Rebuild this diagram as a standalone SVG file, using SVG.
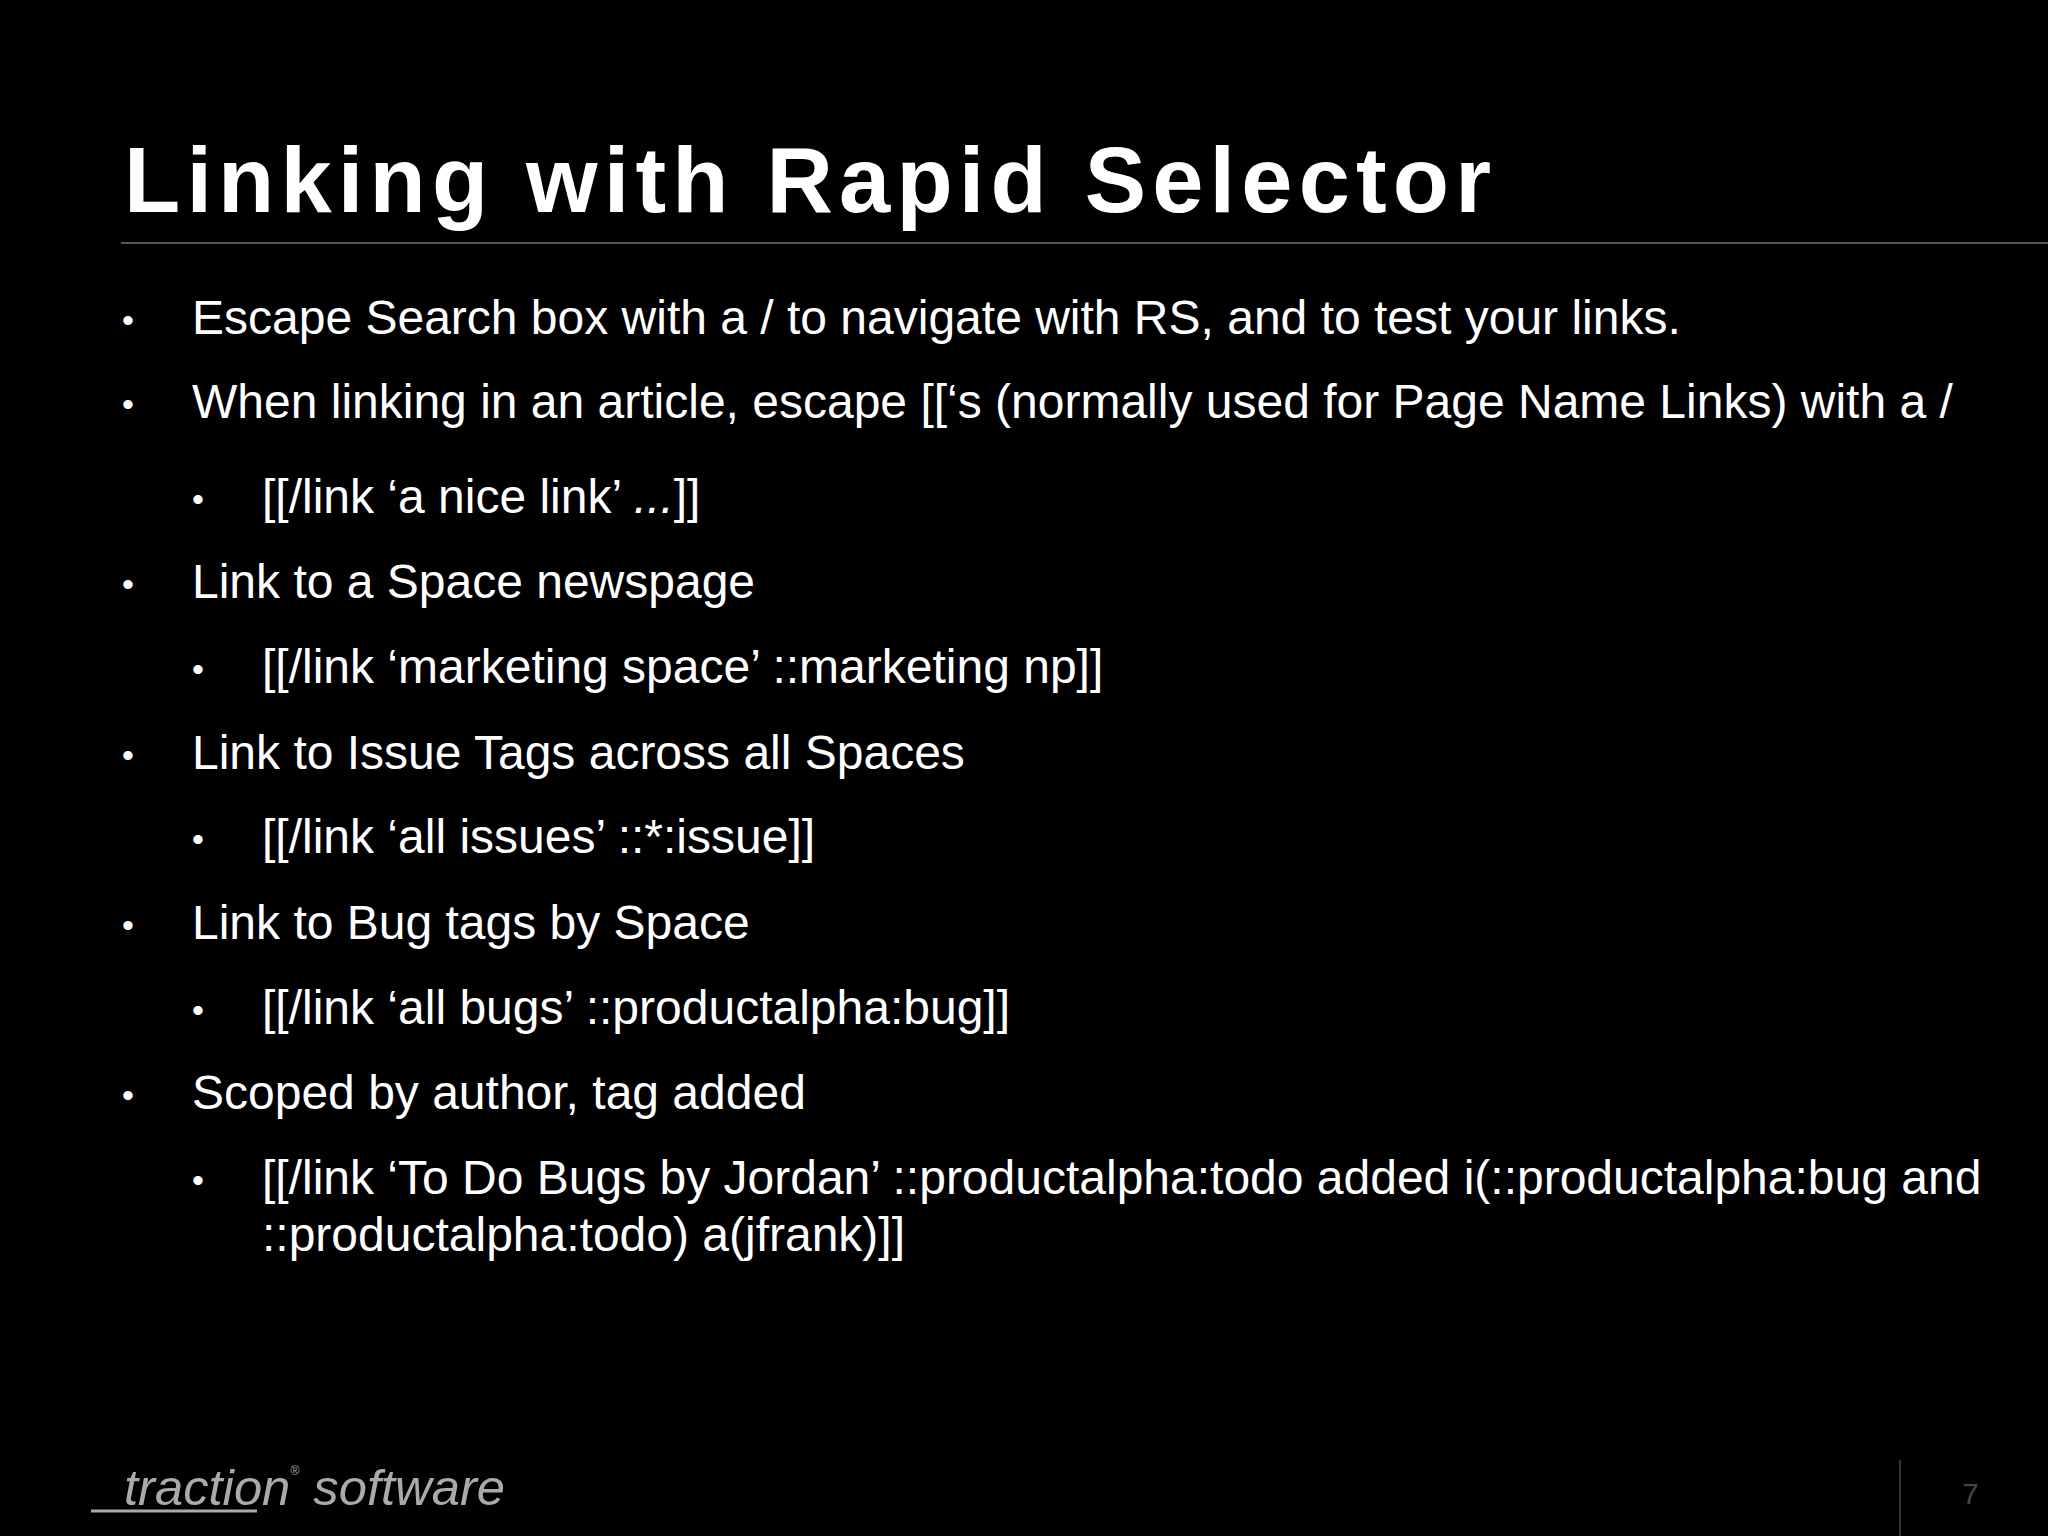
<svg xmlns="http://www.w3.org/2000/svg" width="2048" height="1536" viewBox="0 0 2048 1536">
<style>
.t{font-family:"Liberation Sans",Arial,sans-serif;fill:#fff;font-size:48px}
.b{font-family:"Liberation Sans",Arial,sans-serif;fill:#fff;font-size:34px}
</style>
<rect width="2048" height="1536" fill="#000"/>
<text x="124" y="212" font-family="Liberation Sans,Arial,sans-serif" font-weight="bold" font-size="92" fill="#fff" textLength="1367" lengthAdjust="spacing">Linking with Rapid Selector</text>
<line x1="121" y1="243" x2="2048" y2="243" stroke="#555" stroke-width="2"/>
<g id="bullets">
<text class="b" x="122" y="332">•</text><text class="t" x="192" y="334">Escape Search box with a / to navigate with RS, and to test your links.</text>
<text class="b" x="122" y="416">•</text><text class="t" x="192" y="418">When linking in an article, escape [[‘s (normally used for Page Name Links) with a /</text>
<text class="b" x="192" y="511">•</text><text class="t" x="262" y="513">[[/link ‘a nice link’ <tspan font-style="italic">...</tspan>]]</text>
<text class="b" x="122" y="596">•</text><text class="t" x="192" y="598">Link to a Space newspage</text>
<text class="b" x="192" y="681">•</text><text class="t" x="262" y="683">[[/link ‘marketing space’ ::marketing np]]</text>
<text class="b" x="122" y="767">•</text><text class="t" x="192" y="769">Link to Issue Tags across all Spaces</text>
<text class="b" x="192" y="851">•</text><text class="t" x="262" y="853">[[/link ‘all issues’ ::*:issue]]</text>
<text class="b" x="122" y="937">•</text><text class="t" x="192" y="939">Link to Bug tags by Space</text>
<text class="b" x="192" y="1022">•</text><text class="t" x="262" y="1024">[[/link ‘all bugs’ ::productalpha:bug]]</text>
<text class="b" x="122" y="1107">•</text><text class="t" x="192" y="1109">Scoped by author, tag added</text>
<text class="b" x="192" y="1192">•</text><text class="t" x="262" y="1194">[[/link ‘To Do Bugs by Jordan’ ::productalpha:todo added i(::productalpha:bug and</text>
<text class="t" x="262" y="1251">::productalpha:todo) a(jfrank)]]</text>
</g>
<g id="footer">
<text x="124" y="1505" font-family="Liberation Sans,Arial,sans-serif" font-style="italic" font-size="50" fill="#aaa" textLength="381" lengthAdjust="spacingAndGlyphs">traction<tspan font-size="12" dy="-30">®</tspan><tspan dy="30"> software</tspan></text>
<line x1="91" y1="1511" x2="257" y2="1511" stroke="#aaa" stroke-width="3"/>
<line x1="1900" y1="1460" x2="1900" y2="1536" stroke="#333" stroke-width="2"/>
<text x="1962" y="1504" font-family="Liberation Sans,Arial,sans-serif" font-size="30" fill="#444">7</text>
</g>
</svg>
